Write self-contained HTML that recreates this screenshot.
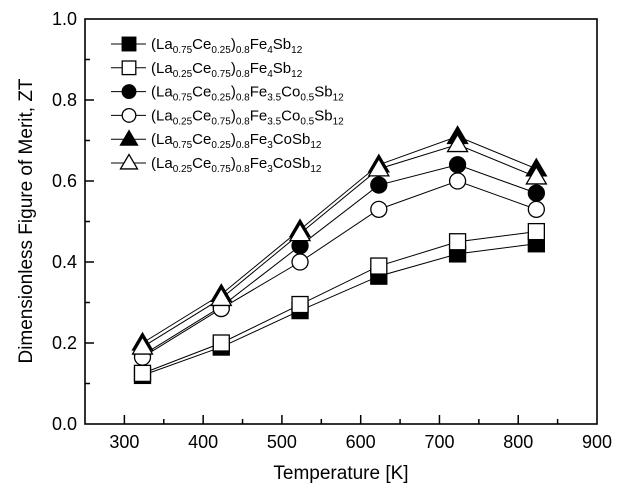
<!DOCTYPE html>
<html><head><meta charset="utf-8"><style>
body{margin:0;background:#fff}
svg{display:block;font-family:"Liberation Sans",Arial,sans-serif}
</style></head><body>
<svg id="chart" width="622" height="492" viewBox="0 0 622 492">
<rect x="85" y="19" width="512" height="405" fill="none" stroke="#000" stroke-width="1.6"/>
<g id="axes"></g><g id="series"></g><g id="legend"></g>
<text x="341" y="479" font-size="19" text-anchor="middle">Temperature [K]</text>
<text transform="translate(32,221) rotate(-90)" font-size="19" text-anchor="middle">Dimensionless Figure of Merit, ZT</text>
</svg>
<script>
const temps=[323,423,523,623,723,823];
const fillSq=[0.12,0.19,0.28,0.365,0.42,0.445];
const openSq=[0.125,0.20,0.295,0.39,0.45,0.475];
const fillCi=[0.17,0.29,0.44,0.59,0.64,0.57];
const openCi=[0.165,0.285,0.40,0.53,0.60,0.53];
const fillTr=[0.20,0.32,0.48,0.64,0.71,0.63];
const openTr=[0.19,0.31,0.47,0.63,0.69,0.61];
const xTicks=[300,400,500,600,700,800,900];
const yTicks=[0.0,0.2,0.4,0.6,0.8,1.0];
const NS="http://www.w3.org/2000/svg";
const X=v=>85+(v-250)*512/650;
const Y=v=>424-v*405;
function mk(t,a,p){const e=document.createElementNS(NS,t);for(const k in a)e.setAttribute(k,a[k]);p.appendChild(e);return e;}
const ax=document.getElementById('axes');
for(let v=300;v<900;v+=50){const big=v%100===0;const t=mk('line',{x1:X(v),x2:X(v),y1:424,y2:424-(big?9:5),stroke:'#000','stroke-width':1.5},ax);

}
xTicks.forEach(v=>{const t=mk('text',{x:X(v),y:448,'font-size':18,'text-anchor':'middle'},ax);t.textContent=v;

});
for(let i=1;i<10;i++){const v=i/10;const big=i%2===0;const t=mk('line',{x1:85,x2:85+(big?9:5),y1:Y(v),y2:Y(v),stroke:'#000','stroke-width':1.5},ax);

}
yTicks.forEach(v=>{const t=mk('text',{x:77,y:Y(v)+6,'font-size':18,'text-anchor':'end'},ax);t.textContent=v.toFixed(1);

});
function marker(kind,filled,x,y,p,s){s=s||1;const f=filled?'#000':'#fff';let e;
if(kind==='sq')e=mk('rect',{x:x-8*s,y:y-8*s,width:16*s,height:16*s,fill:f,stroke:'#000','stroke-width':1.3},p);
else if(kind==='ci')e=mk('circle',{cx:x,cy:y,r:8*s,fill:f,stroke:'#000','stroke-width':1.3},p);
else e=mk('polygon',{points:`${x},${y-10*s} ${x-10*s},${y+7*s} ${x+10*s},${y+7*s}`,fill:f,stroke:'#000','stroke-width':1.3},p);
return e;}
const series=[['sq',true,fillSq,'fill-square-series'],['sq',false,openSq,'open-square-series'],['ci',true,fillCi,'fill-circle-series'],['ci',false,openCi,'open-circle-series'],['tr',true,fillTr,'fill-triangle-series'],['tr',false,openTr,'open-triangle-series']];
const sg=document.getElementById('series');
series.forEach(s=>{const g=mk('g',{},sg);


mk('polyline',{points:temps.map((t,i)=>X(t)+','+Y(s[2][i])).join(' '),fill:'none',stroke:'#000','stroke-width':1},g);
temps.forEach((t,i)=>{const m=marker(s[0],s[1],X(t),Y(s[2][i]),g);

});});
const S='<tspan dy="4" font-size="10">',E='</tspan><tspan dy="-4">';
const labels=[
'(La'+S+'0.75'+E+'Ce</tspan>'+S+'0.25'+E+')</tspan>'+S+'0.8'+E+'Fe</tspan>'+S+'4'+E+'Sb</tspan>'+S+'12</tspan>',
'(La'+S+'0.25'+E+'Ce</tspan>'+S+'0.75'+E+')</tspan>'+S+'0.8'+E+'Fe</tspan>'+S+'4'+E+'Sb</tspan>'+S+'12</tspan>',
'(La'+S+'0.75'+E+'Ce</tspan>'+S+'0.25'+E+')</tspan>'+S+'0.8'+E+'Fe</tspan>'+S+'3.5'+E+'Co</tspan>'+S+'0.5'+E+'Sb</tspan>'+S+'12</tspan>',
'(La'+S+'0.25'+E+'Ce</tspan>'+S+'0.75'+E+')</tspan>'+S+'0.8'+E+'Fe</tspan>'+S+'3.5'+E+'Co</tspan>'+S+'0.5'+E+'Sb</tspan>'+S+'12</tspan>',
'(La'+S+'0.75'+E+'Ce</tspan>'+S+'0.25'+E+')</tspan>'+S+'0.8'+E+'Fe</tspan>'+S+'3'+E+'CoSb</tspan>'+S+'12</tspan>',
'(La'+S+'0.25'+E+'Ce</tspan>'+S+'0.75'+E+')</tspan>'+S+'0.8'+E+'Fe</tspan>'+S+'3'+E+'CoSb</tspan>'+S+'12</tspan>'];
const lg=document.getElementById('legend');
series.forEach((s,i)=>{const y=44+i*23.8;const g=mk('g',{},lg);


mk('line',{x1:111,x2:146,y1:y,y2:y,stroke:'#000','stroke-width':1},g);
marker(s[0],s[1],129,y,g,0.85);
const t=mk('text',{x:151,y:y+5,'font-size':15},g);t.innerHTML=labels[i];});
</script>
</body></html>
